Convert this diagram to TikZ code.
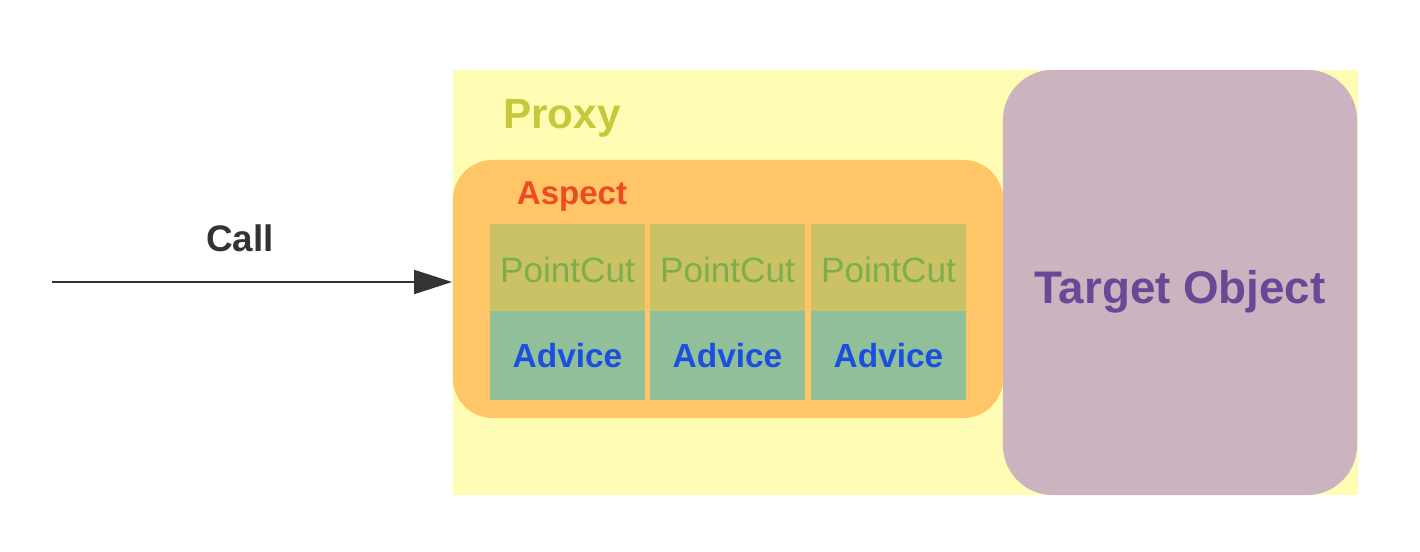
\documentclass[tikz,border=0pt]{standalone}
\usepackage{fontspec}
\setmainfont{Liberation Sans}
\usetikzlibrary{arrows.meta, positioning}

\definecolor{proxyyellow}{HTML}{FFFDB3}
\definecolor{proxytext}{HTML}{C6C83C}
\definecolor{aspectorange}{HTML}{FFC567}
\definecolor{aspecttext}{HTML}{EE4B24}
\definecolor{cutfill}{HTML}{CBC265}
\definecolor{cuttext}{HTML}{7BAE4C}
\definecolor{advicefill}{HTML}{90BF9A}
\definecolor{advicetext}{HTML}{1C4FDF}
\definecolor{targetfill}{HTML}{CBB3BF}
\definecolor{targettext}{HTML}{6A4896}
\definecolor{calltext}{HTML}{333333}

\tikzset{
	cell/.style={rectangle, inner sep=0pt, minimum width=1.55cm},
	cutcell/.style={cell, fill=cutfill, minimum height=0.87cm, text height=0.30cm, text depth=0pt, text=cuttext, font=\fontsize{10}{12}\selectfont},
	advicecell/.style={cell, fill=advicefill, minimum height=0.89cm, text=advicetext, font=\bfseries\fontsize{9.5}{11}\selectfont},
}

\begin{document}
\begin{tikzpicture}[x=0.01cm, y=-0.01cm]
	\def\cutY{267.5}
	\def\adviceY{355.5}

	\useasboundingbox (0,0) rectangle (1420,552);

	% proxy and target
	\node[rectangle, fill=proxyyellow, minimum width=9.05cm, minimum height=4.25cm, inner sep=0pt] (proxy) at (905.5,282.5) {};
	\node[rectangle, rounded corners=0.5cm, fill=targetfill, minimum width=3.54cm, minimum height=4.25cm, inner sep=0pt] (target) at (1180,282.5) {};
	\node[text=targettext, text depth=0pt, font=\bfseries\fontsize{13}{15}\selectfont] (targetlabel) at (1180,287) {Target Object};
	\node[text=proxytext, text depth=0pt, font=\bfseries\fontsize{12}{14}\selectfont] (proxylabel) at (562,114) {Proxy};

	% aspect
	\node[rectangle, rounded corners=0.4cm, fill=aspectorange, minimum width=5.5cm, minimum height=2.58cm, inner sep=0pt] (aspect) at (728,289) {};
	\node[text=aspecttext, text depth=0pt, font=\bfseries\fontsize{9.4}{11}\selectfont] (aspectlabel) at (572,193) {Aspect};

	\foreach \i/\x in {1/567.5, 2/727.5, 3/888.5} {
		\node[cutcell] (cut\i) at (\x,\cutY) {PointCut};
		\node[advicecell] (advice\i) at (\x,\adviceY) {Advice};
	}

	% call
	\coordinate (caller) at (52,282);
	\draw[line width=0.6pt, draw=calltext, -{Triangle[length=3.8mm, width=2.4mm]}] (caller) -- (caller -| proxy.west);
	\node[text=calltext, font=\bfseries\fontsize{10.5}{12}\selectfont] (calllabel) at (240,238) {Call};
\end{tikzpicture}
\end{document}
